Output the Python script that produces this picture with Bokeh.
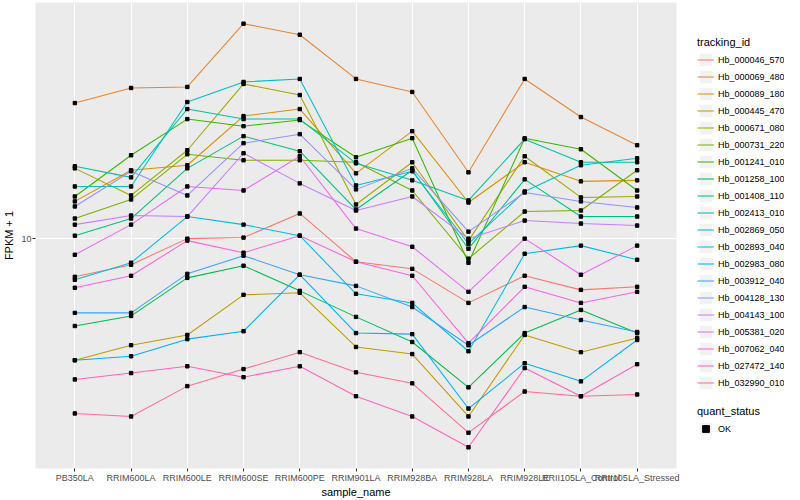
import math
from bokeh.plotting import figure
from bokeh.layouts import row
from bokeh.models import (FactorRange, Range1d, FixedTicker, PrintfTickFormatter,
                          Legend, LegendItem)
from bokeh.embed import file_html
from bokeh.resources import INLINE

samples = ["PB350LA", "RRIM600LA", "RRIM600LE", "RRIM600SE", "RRIM600PE",
           "RRIM901LA", "RRIM928BA", "RRIM928LA", "RRIM928LE",
           "RRII105LA_Control", "RRII105LA_Stressed"]

tracking_ids = ["Hb_000046_570", "Hb_000069_480", "Hb_000089_180", "Hb_000445_470",
                "Hb_000671_080", "Hb_000731_220", "Hb_001241_010", "Hb_001258_100",
                "Hb_001408_110", "Hb_002413_010", "Hb_002869_050", "Hb_002893_040",
                "Hb_002983_080", "Hb_003912_040", "Hb_004128_130", "Hb_004143_100",
                "Hb_005381_020", "Hb_007062_040", "Hb_027472_140", "Hb_032990_010"]

colors = ["#F8766D", "#EA8331", "#D89000", "#C09B00", "#A3A500", "#7CAE00",
          "#39B600", "#00BB4E", "#00BF7D", "#00C1A3", "#00BFC4", "#00BAE0",
          "#00B0F6", "#35A2FF", "#9590FF", "#C77CFF", "#E76BF3", "#FA62DB",
          "#FF62BC", "#FF6C91"]

# FPKM + 1 per sample (order of `samples`)
hb_000046_570 = [7.47, 8.19, 10.00, 10.08, 12.12, 8.38, 7.94, 6.12, 7.53, 6.76, 6.92]
hb_000069_480 = [28.18, 31.62, 31.87, 51.68, 47.50, 33.88, 30.67, 16.60, 33.88, 25.32, 20.42]
hb_000089_180 = [13.29, 16.86, 17.52, 25.51, 26.92, 16.47, 22.73, 13.18, 17.93, 15.49, 15.61]
hb_000445_470 = [3.95, 4.43, 4.79, 6.51, 6.61, 4.37, 4.14, 2.57, 4.79, 4.20, 4.68]
hb_000671_080 = [17.11, 13.91, 19.65, 32.61, 29.97, 12.98, 17.93, 9.85, 18.77, 13.70, 13.80]
hb_000731_220 = [11.66, 13.49, 19.05, 18.20, 18.20, 17.93, 14.45, 8.58, 12.30, 12.40, 16.86]
hb_001241_010 = [13.80, 18.91, 24.93, 23.62, 24.74, 18.62, 21.54, 8.32, 21.54, 19.80, 14.45]
hb_001258_100 = [5.13, 5.54, 7.41, 8.13, 6.71, 5.50, 4.54, 3.21, 4.86, 5.80, 4.86]
hb_001408_110 = [10.23, 11.66, 17.11, 21.88, 19.50, 12.49, 16.86, 9.26, 15.73, 11.84, 11.84]
hb_002413_010 = [17.38, 15.97, 26.92, 24.93, 24.93, 17.78, 15.61, 13.39, 21.38, 17.93, 17.93]
hb_002869_050 = [14.90, 14.90, 28.40, 33.11, 33.88, 15.02, 16.73, 9.62, 14.34, 17.52, 18.48]
hb_002893_040 = [7.30, 8.32, 11.84, 11.13, 10.23, 6.56, 6.12, 4.23, 8.91, 9.48, 8.51]
hb_002983_080 = [3.95, 4.07, 4.64, 4.93, 7.59, 4.86, 4.82, 2.73, 3.86, 3.36, 4.61]
hb_003912_040 = [5.67, 5.67, 7.64, 8.78, 7.59, 6.97, 5.93, 4.43, 5.93, 5.37, 4.90]
hb_004128_130 = [12.79, 16.73, 13.91, 20.74, 22.22, 14.57, 17.11, 10.55, 14.23, 13.29, 12.69]
hb_004143_100 = [11.13, 11.93, 11.84, 19.20, 15.25, 12.40, 13.80, 10.00, 11.48, 11.22, 11.05]
hb_005381_020 = [8.84, 11.13, 14.90, 14.45, 18.77, 10.80, 9.40, 6.66, 10.00, 7.59, 9.48]
hb_007062_040 = [6.87, 7.53, 9.85, 8.98, 10.23, 8.38, 7.53, 4.50, 6.92, 6.12, 6.66]
hb_027472_140 = [3.41, 3.58, 3.77, 3.47, 3.77, 3.00, 2.57, 2.03, 3.72, 3.00, 3.83]
hb_032990_010 = [2.63, 2.57, 3.24, 3.69, 4.20, 3.60, 3.31, 2.27, 3.11, 3.00, 3.04]

series = [hb_000046_570, hb_000069_480, hb_000089_180, hb_000445_470, hb_000671_080,
          hb_000731_220, hb_001241_010, hb_001258_100, hb_001408_110, hb_002413_010,
          hb_002869_050, hb_002893_040, hb_002983_080, hb_003912_040, hb_004128_130,
          hb_004143_100, hb_005381_020, hb_007062_040, hb_027472_140, hb_032990_010]

quant_status = ["OK"]
y_breaks = [10]

FONT = "Liberation Sans"
H = 500

# ggplot-like 5% expansion on the log scale
all_vals = [v for s in series for v in s]
lo, hi = math.log10(min(all_vals)), math.log10(max(all_vals))
pad = 0.05 * (hi - lo)

p = figure(width=684, height=H,
           x_range=FactorRange(factors=samples, range_padding=0.2,
                               range_padding_units="absolute"),
           y_range=Range1d(10 ** (lo - pad), 10 ** (hi + pad)),
           y_axis_type="log", output_backend="svg", toolbar_location=None,
           min_border_left=27, min_border_right=8, min_border_top=2,
           min_border_bottom=24)

p.background_fill_color = "#EBEBEB"
p.border_fill_color = "white"
p.outline_line_color = None

p.xgrid.grid_line_color = "white"
p.xgrid.grid_line_width = 1.1
p.ygrid.ticker = FixedTicker(ticks=y_breaks, minor_ticks=[])
p.ygrid.grid_line_color = "white"
p.ygrid.grid_line_width = 1.1
p.ygrid.minor_grid_line_color = None

p.yaxis.ticker = FixedTicker(ticks=y_breaks, minor_ticks=[])
p.yaxis.formatter = PrintfTickFormatter(format="%d")

for ax in (p.xaxis[0], p.yaxis[0]):
    ax.axis_line_color = None
    ax.major_tick_line_color = "#333333"
    ax.major_tick_in = 0
    ax.major_tick_out = 3
    ax.minor_tick_line_color = None
    ax.major_label_text_font = FONT
    ax.major_label_text_font_size = "9px"
    ax.major_label_text_color = "#4D4D4D"
    ax.major_label_standoff = 1
    ax.axis_label_text_font = FONT
    ax.axis_label_text_font_size = "11px"
    ax.axis_label_text_font_style = "normal"
    ax.axis_label_text_color = "black"
    ax.axis_label_standoff = 0

p.yaxis.axis_label_standoff = 3
p.xaxis.axis_label = "sample_name"
p.yaxis.axis_label = "FPKM + 1"

for vals, col in zip(series, colors):
    p.line(x=samples, y=vals, line_color=col, line_width=1.05)

for vals in series:
    p.scatter(x=samples, y=vals, marker="square", size=3.4,
              fill_color="black", line_color="black")

# ---- legend panel (separate canvas to the right of the plot) ----
lg = figure(width=100, height=H, x_range=Range1d(0, 1), y_range=Range1d(0, 1),
            x_axis_type=None, y_axis_type=None, output_backend="svg",
            toolbar_location=None, min_border=0)
lg.outline_line_color = None
lg.xgrid.visible = False
lg.ygrid.visible = False
lg.background_fill_color = "white"
lg.border_fill_color = "white"

# legend-only glyphs, placed outside the visible range
key_bg = lg.quad(left=[-3], right=[-2], bottom=[-3], top=[-2],
                 fill_color="#F2F2F2", line_color="white", line_width=1)
key_lines = [lg.line(x=[-3, -2], y=[-3, -3], line_color=col, line_width=1.05)
             for col in colors]
key_pt = lg.scatter(x=[-3], y=[-3], marker="square", size=3.4,
                    fill_color="black", line_color="black")

legend_kw = dict(glyph_width=17, glyph_height=17, label_height=17, spacing=0,
                 padding=0, margin=0, border_line_color=None,
                 background_fill_alpha=0, label_standoff=4,
                 label_text_font=FONT, label_text_font_size="9px",
                 label_text_color="black", title_text_font=FONT,
                 title_text_font_size="11px", title_text_font_style="normal",
                 title_text_color="black", title_standoff=3)

leg1 = Legend(items=[LegendItem(label=tid, renderers=[key_bg, r])
                     for tid, r in zip(tracking_ids, key_lines)],
              title="tracking_id", location=(13, 77), **legend_kw)
leg2 = Legend(items=[LegendItem(label=quant_status[0], renderers=[key_bg, key_pt])],
              title="quant_status", location=(13, 31), **legend_kw)
lg.add_layout(leg1, "center")
lg.add_layout(leg2, "center")

layout = row(p, lg, spacing=0)
open("out.html", "w").write(file_html(layout, INLINE))
